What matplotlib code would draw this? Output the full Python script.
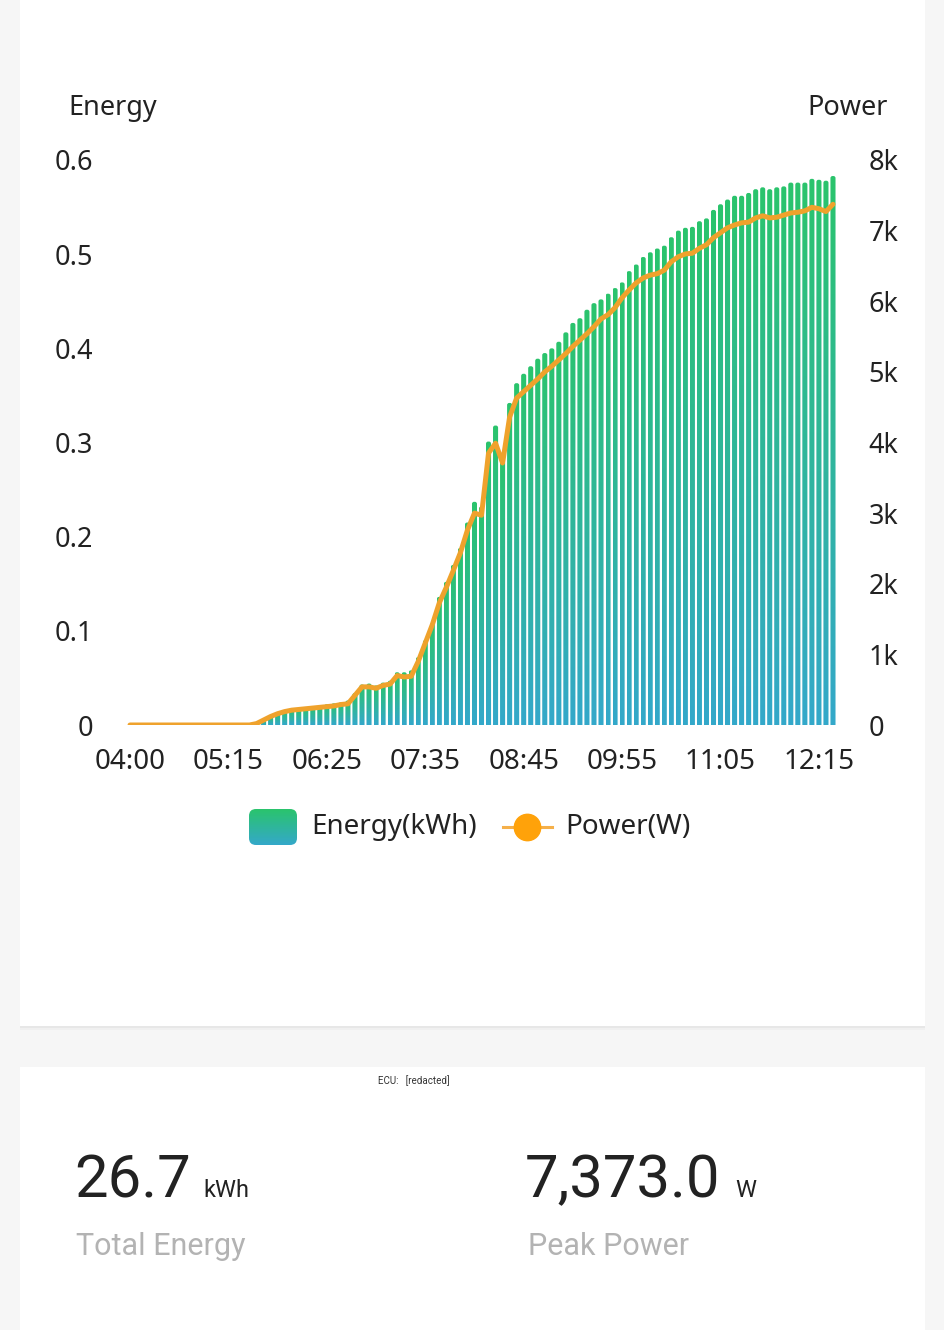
import numpy as np
import pandas as pd
import matplotlib
matplotlib.use('Agg')
import matplotlib.pyplot as plt
from matplotlib.patches import FancyBboxPatch, Rectangle
from matplotlib.colors import LinearSegmentedColormap

# ---- data ----
times = ['04:00'] + list(pd.date_range('2024-01-01 04:10', periods=100, freq='5min').strftime('%H:%M'))

energy_kwh = [0] * 19 + [
    0.005, 0.009, 0.013, 0.015, 0.017, 0.018, 0.019, 0.020, 0.021, 0.022,
    0.023, 0.024, 0.026, 0.034, 0.043, 0.044, 0.042, 0.045, 0.047, 0.056,
    0.056, 0.058, 0.072, 0.090, 0.108, 0.136, 0.152, 0.170, 0.188, 0.215,
    0.237, 0.232, 0.301, 0.318, 0.280, 0.342, 0.363, 0.373, 0.381, 0.389,
    0.395, 0.400, 0.407, 0.417, 0.427, 0.432, 0.441, 0.448, 0.452, 0.458,
    0.464, 0.470, 0.482, 0.489, 0.497, 0.502, 0.506, 0.509, 0.518, 0.525,
    0.528, 0.529, 0.535, 0.538, 0.547, 0.553, 0.558, 0.562, 0.562, 0.565,
    0.569, 0.571, 0.569, 0.571, 0.572, 0.576, 0.576, 0.576, 0.580, 0.579,
    0.578, 0.583]

power_w = [0] * 18 + [
    20, 70, 120, 160, 190, 210, 220, 230, 240, 250,
    260, 270, 290, 300, 420, 540, 540, 520, 560, 580,
    700, 680, 690, 900, 1160, 1420, 1730, 1950, 2190, 2440,
    2760, 3000, 2970, 3850, 3990, 3710, 4360, 4630, 4720, 4810,
    4900, 5000, 5080, 5170, 5260, 5360, 5450, 5540, 5640, 5750,
    5810, 5910, 6050, 6160, 6260, 6330, 6370, 6390, 6440, 6560,
    6630, 6670, 6680, 6750, 6800, 6900, 6970, 7040, 7080, 7110,
    7120, 7180, 7210, 7180, 7190, 7220, 7250, 7260, 7280, 7330,
    7310, 7270, 7373]

energy_ticks = [0, 0.1, 0.2, 0.3, 0.4, 0.5, 0.6]
energy_tick_labels = ['0', '0.1', '0.2', '0.3', '0.4', '0.5', '0.6']
power_ticks = [0, 1000, 2000, 3000, 4000, 5000, 6000, 7000, 8000]
power_tick_labels = ['0', '1k', '2k', '3k', '4k', '5k', '6k', '7k', '8k']

total_energy = '26.7'
peak_power = '7,373.0'

# ---- styling ----
W, H = 945, 1330
bar_top = '#2AC46C'
bar_bottom = '#34A8CA'
line_color = '#EFA22C'
text_color = '#222222'
chart_font = 'Noto Sans'
num_font = 'Roboto'


def fx(px):
    return px / W


def fy(py):
    return 1 - py / H


fig = plt.figure(figsize=(W / 100, H / 100), dpi=100)
fig.patch.set_facecolor('#f6f6f6')

# cards with a soft shadow (kept under the axes)
for off, a in [(4, 0.025), (2, 0.035)]:
    fig.patches.append(Rectangle((fx(20), fy(1026 + off)), fx(905), (1026 + off) / H,
                                 transform=fig.transFigure, facecolor='black', alpha=a,
                                 edgecolor='none', zorder=-10))
fig.patches.append(Rectangle((fx(20), fy(1026)), fx(905), 1026 / H,
                             transform=fig.transFigure, facecolor='white', edgecolor='none',
                             zorder=-9))
fig.patches.append(Rectangle((fx(20), 0), fx(905), (H - 1067) / H,
                             transform=fig.transFigure, facecolor='white', edgecolor='none',
                             zorder=-9))

# ---- chart ----
left, right, top, bottom = 126.5, 836.5, 160, 725
ax = fig.add_axes([fx(left), fy(bottom), fx(right - left), (bottom - top) / H])
ax.set_facecolor('none')

n = len(times)
xs = np.arange(n)
bw = 0.72
cmap = LinearSegmentedColormap.from_list('bars', [bar_bottom, bar_top])
grad = np.linspace(1, 0, 256).reshape(-1, 1)
# aspect of the axes box, used to keep the rounded caps circular
ma = (0.6 / (bottom - top)) / (n / (right - left))
for x, e in zip(xs, energy_kwh):
    if e <= 0:
        continue
    im = ax.imshow(grad, extent=[x - bw / 2, x + bw / 2, 0, e], cmap=cmap, vmin=0, vmax=1,
                   aspect='auto', origin='upper', zorder=2, interpolation='bilinear')
    clip = FancyBboxPatch((x - bw / 2, -0.01), bw, e + 0.01,
                          boxstyle='round,pad=0,rounding_size=0.3', mutation_aspect=ma,
                          transform=ax.transData)
    im.set_clip_path(clip)

ax.set_xlim(-0.5, n - 0.5)
ax.set_ylim(0, 0.6)
ax.set_yticks(energy_ticks)
ax.set_yticklabels(energy_tick_labels)
tick_idx = list(range(0, n, 14))
ax.set_xticks(tick_idx)
ax.set_xticklabels([times[i] for i in tick_idx])

ax2 = ax.twinx()
ax2.set_facecolor('none')
ax2.plot(xs, power_w, color=line_color, lw=3.6, solid_joinstyle='round',
         solid_capstyle='round', zorder=3)
ax2.set_ylim(0, 8000)
ax2.set_yticks(power_ticks)
ax2.set_yticklabels(power_tick_labels)

for a in (ax, ax2):
    for s in a.spines.values():
        s.set_visible(False)
ax.tick_params(axis='y', length=0, pad=24, labelsize=19.5, labelcolor=text_color)
ax.tick_params(axis='x', length=0, pad=16.5, labelsize=20, labelcolor=text_color)
ax2.tick_params(axis='y', length=0, pad=23, labelsize=19.5, labelcolor=text_color)
for lab in ax.get_xticklabels() + ax.get_yticklabels() + ax2.get_yticklabels():
    lab.set_family(chart_font)

fig.text(fx(113), fy(108), 'Energy', ha='center', va='center', fontsize=19.5,
         family=chart_font, color=text_color)
fig.text(fx(848), fy(108), 'Power', ha='center', va='center', fontsize=19.5,
         family=chart_font, color=text_color)

# ---- legend, drawn in pixel coordinates ----
lg = fig.add_axes([0, 0, 1, 1], zorder=5)
lg.set_xlim(0, W)
lg.set_ylim(H, 0)
lg.axis('off')
lim = lg.imshow(grad, extent=[249, 297, 845, 809], cmap=cmap, vmin=0, vmax=1,
                aspect='auto', origin='upper', interpolation='bilinear')
lclip = FancyBboxPatch((249, 809), 48, 36, boxstyle='round,pad=0,rounding_size=7',
                       transform=lg.transData)
lim.set_clip_path(lclip)
lg.set_xlim(0, W)
lg.set_ylim(H, 0)
lg.text(311, 827, 'Energy(kWh)', ha='left', va='center', fontsize=20,
        family=chart_font, color=text_color)
lg.plot([503, 552], [827, 827], color='#F5B04A', lw=2.2)
lg.plot([527], [827], 'o', ms=19, color='#FFA20A', mec='#FFA20A')
lg.text(565, 827, 'Power(W)', ha='left', va='center', fontsize=20,
        family=chart_font, color=text_color)

# ---- summary card ----
fig.text(fx(378), fy(1081), 'ECU:   [redacted]', ha='left', va='center', fontsize=7,
         family=num_font, color='#333333')
fig.text(fx(74), fy(1197), total_energy, ha='left', va='baseline', fontsize=43,
         family=num_font, color=text_color)
fig.text(fx(203), fy(1197), 'kWh', ha='left', va='baseline', fontsize=17,
         family=num_font, color=text_color)
fig.text(fx(76), fy(1255), 'Total Energy', ha='left', va='baseline', fontsize=22,
         family=num_font, color='#b3b3b3')
fig.text(fx(525), fy(1197), peak_power, ha='left', va='baseline', fontsize=43,
         family=num_font, color=text_color)
fig.text(fx(735), fy(1197), 'W', ha='left', va='baseline', fontsize=17,
         family=num_font, color=text_color)
fig.text(fx(528), fy(1255), 'Peak Power', ha='left', va='baseline', fontsize=22,
         family=num_font, color='#b3b3b3')

fig.savefig('out.png', dpi=100, facecolor=fig.get_facecolor())
